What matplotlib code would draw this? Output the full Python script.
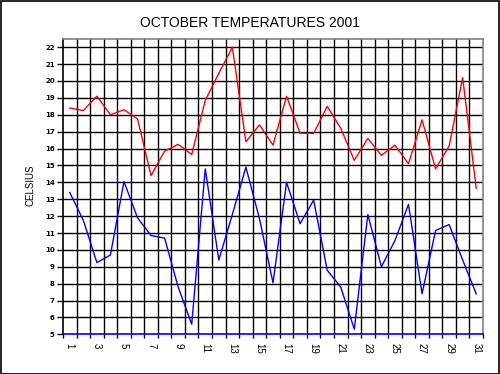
import matplotlib
matplotlib.use('Agg')
import matplotlib.pyplot as plt
import numpy as np
from matplotlib.patches import Rectangle

# October 2001 daily temperatures (Celsius)
days = list(range(1, 32))
max_temp = [18.4, 18.25, 19.1, 18.0, 18.3, 17.75, 14.4, 15.85, 16.25, 15.65,
            18.85, 20.45, 22.0, 16.4, 17.4, 16.2, 19.1, 16.9, 16.9, 18.5,
            17.2, 15.3, 16.6, 15.6, 16.2, 15.1, 17.7, 14.8, 16.15, 20.2,
            13.65]
min_temp = [13.4, 11.75, 9.25, 9.7, 14.05, 11.9, 10.85, 10.7, 7.8, 5.6,
            14.8, 9.4, 12.1, 14.9, 11.85, 8.05, 14.0, 11.55, 12.95, 8.8,
            7.8, 5.3, 12.1, 9.0, 10.55, 12.7, 7.4, 11.15, 11.5, 9.4,
            7.4]
y_ticks = list(range(5, 23))
x_labels = [str(d) for d in days if d % 2 == 1]

fig = plt.figure(figsize=(5, 3.74), dpi=100)
fig.patch.set_facecolor('white')
fig.patches.append(Rectangle((0.001, 0.001), 0.997, 0.996, transform=fig.transFigure,
                             fill=False, edgecolor='black', linewidth=1.2))

ax = fig.add_axes([0.126, 0.106, 0.84, 0.789])
ax.set_xlim(0.5, 31.5)
ax.set_ylim(5, 22.47)

# grid: horizontal at every degree, vertical at day boundaries
for y in y_ticks[1:]:
    ax.axhline(y, color='black', lw=1.0, zorder=1)
for xb in np.arange(1.5, 31.5, 1.0):
    ax.axvline(xb, color='black', lw=1.0, zorder=1)

ax.plot(days, max_temp, color='#ff0000', lw=1.0, zorder=3)
ax.plot(days, min_temp, color='#0000ff', lw=1.0, zorder=3)

ax.spines['top'].set_color('#808080')
ax.spines['right'].set_color('#808080')
ax.spines['bottom'].set_color('#0000ff')
ax.spines['left'].set_color('black')
for s in ax.spines.values():
    s.set_linewidth(1.2)

ax.set_yticks(y_ticks)
ax.set_yticklabels([str(v) for v in y_ticks], fontsize=5, fontweight='bold')
ax.tick_params(axis='y', length=4, width=1, pad=2)

# x tick marks at boundaries, labels at odd days
ax.set_xticks(np.arange(0.5, 32.0, 1.0))
ax.set_xticklabels([])
ax.tick_params(axis='x', length=3, width=1, color='black')
for d, lab in zip(range(1, 32, 2), x_labels):
    ax.text(d, -0.03, lab, transform=ax.get_xaxis_transform(), rotation=-90,
            ha='center', va='top', fontsize=7, family='Liberation Sans')

fig.text(0.5, 0.938, 'OCTOBER TEMPERATURES 2001', ha='center', va='center',
         fontsize=10, family='Liberation Sans')
fig.text(0.062, 0.505, 'CELSIUS', rotation=90, ha='center', va='center',
         fontsize=7, family='Liberation Sans')

fig.savefig('out.png', dpi=100)
